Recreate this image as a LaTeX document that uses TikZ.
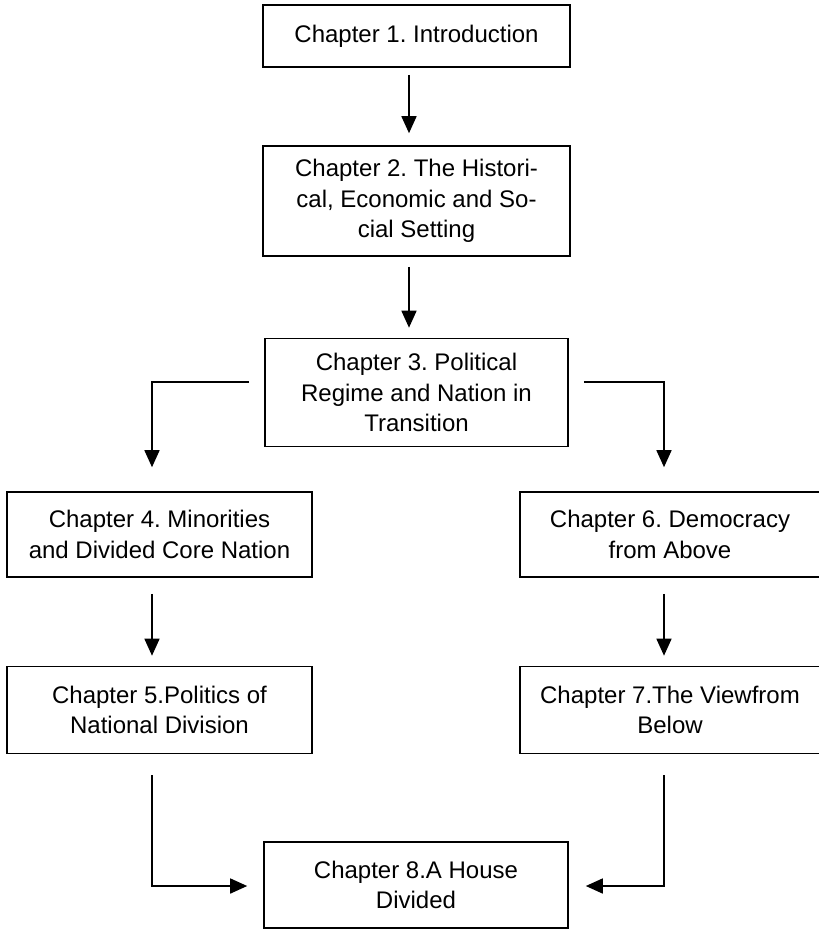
\documentclass[tikz,border=0pt]{standalone}
\usepackage{fontspec}
\setmainfont{Liberation Sans}
\usetikzlibrary{arrows.meta,calc}
\frenchspacing
\begin{document}
\begin{tikzpicture}[x=1pt,y=-1pt,
  box/.style={draw,line width=1.6pt,rectangle,inner sep=0pt,align=center,
    font=\fontsize{24}{30.5}\selectfont\frenchspacing},
  arr/.style={line width=1.6pt,-{Triangle[length=17pt,width=15pt]}}]
\useasboundingbox (0,0) rectangle (819,929);
\node[box,minimum width=307pt,minimum height=62pt] (b1) at (416.5,36) {Chapter 1. Introduction};
\node[box,minimum width=307pt,minimum height=110pt] (b2) at (416.5,201) {Chapter 2. The Histori-\\cal, Economic and So-\\cial Setting};
\node[box,minimum width=303pt,minimum height=108pt] (b3) at (416.5,392.5) {Chapter 3. Political\\Regime and Nation in\\Transition};
\node[box,minimum width=305pt,minimum height=85pt] (b4) at (159.5,534.5) {Chapter 4. Minorities\\and Divided Core Nation};
\node[box,minimum width=305pt,minimum height=87pt] (b5) at (159.5,710) {Chapter 5.Politics of\\National Division};
\node[box,minimum width=300pt,minimum height=85pt] (b6) at (670,534.5) {Chapter 6. Democracy\\from Above};
\node[box,minimum width=300pt,minimum height=87pt] (b7) at (670,710) {Chapter 7.The Viewfrom\\Below};
\node[box,minimum width=304pt,minimum height=86pt] (b8) at (416,885) {Chapter 8.A House\\Divided};
\coordinate (c3l) at (152,382);
\coordinate (c3r) at (664,382);
\coordinate (c5) at (152,886);
\coordinate (c7) at (664,886);
\draw[arr] ($(b1.south)+(-7.5,7)$) -- ($(b2.north)+(-7.5,-12)$);
\draw[arr] ($(b2.south)+(-7.5,10)$) -- ($(b3.north)+(-7.5,-10)$);
\draw[arr] ($(b3.west)+(-15,-10.5)$) -- (c3l) -- ($(c3l |- b4.north)+(0,-24)$);
\draw[arr] ($(b3.east)+(15,-10.5)$) -- (c3r) -- ($(c3r |- b6.north)+(0,-24)$);
\draw[arr] ($(b4.south)+(-7.5,16)$) -- ($(b5.north)+(-7.5,-10)$);
\draw[arr] ($(b6.south)+(-6,16)$) -- ($(b7.north)+(-6,-10)$);
\draw[arr] ($(b5.south)+(-7.5,21)$) -- (c5) -- ($(b8.west)+(-16,1)$);
\draw[arr] ($(b7.south)+(-6,21)$) -- (c7) -- ($(b8.east)+(17,1)$);
\end{tikzpicture}
\end{document}
